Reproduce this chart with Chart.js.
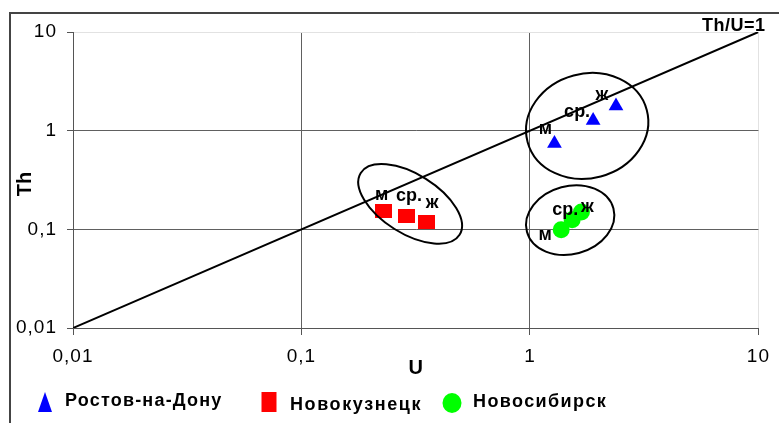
<!DOCTYPE html>
<html>
<head>
<meta charset="utf-8">
<script src="https://cdn.jsdelivr.net/npm/chart.js@4.4.1/dist/chart.umd.min.js"></script>
<style>
  html, body { margin: 0; padding: 0; background: #fff; }
  #wrap { position: relative; width: 779px; height: 423px; overflow: hidden; }
  #frame { position: absolute; left: 9px; top: 12px; width: 820px; height: 460px;
           border-left: 2px solid #444; border-top: 2px solid #444; }
  #c { position: absolute; left: 0; top: 0; }
</style>
</head>
<body>
<div id="wrap">
  <div id="frame"></div>
  <canvas id="c" width="779" height="423"></canvas>
</div>
<script>
// Th vs U, three sampling sites; stages: м, ср., ж
const seriesNames = ['Ростов-на-Дону', 'Новокузнецк', 'Новосибирск'];
const pointNames = ['м', 'ср.', 'ж'];

const rostovU = [1.28, 1.89, 2.38];
const rostovTh = [0.74, 1.27, 1.78];
const novokuzU = [0.229, 0.287, 0.351];
const novokuzTh = [0.154, 0.135, 0.120];
const novosibU = [1.37, 1.53, 1.68];
const novosibTh = [0.099, 0.125, 0.150];

const axisTicks = [0.01, 0.1, 1, 10];
const refLineU = [0.01, 10];
const refLineTh = [0.01, 10];
const refLineLabel = 'Th/U=1';

// group outlines: [centre U, centre Th, half-width (U decades), half-height (Th decades), tilt in degrees]
const rostovOutline = [1.78, 1.116, 0.27, 0.53, -15];
const novokuzOutline = [0.299, 0.181, 0.255, 0.30, 32];
const novosibOutline = [1.50, 0.124, 0.196, 0.345, -15];

const FONT = "'Liberation Sans', Arial, sans-serif";

// label offsets (px) of the stage names around each marker
const labelOffsets = [
  [[-9, -15], [-16, -8], [-14, -11]],
  [[-2, -16], [3, -20], [6, -18]],
  [[-16, 5], [-7, -10], [6, -5]]
];

const pts = (u, th) => u.map((v, i) => ({ x: v, y: th[i] }));

// slightly wide red block used as the marker for the second series
function makeBlock(w, h, color) {
  const cv = document.createElement('canvas');
  cv.width = w; cv.height = h;
  const g = cv.getContext('2d');
  g.fillStyle = color;
  g.fillRect(0, 0, w, h);
  return cv;
}
const redBlock = makeBlock(17, 14, '#ff0000');

const overlay = {
  id: 'overlay',
  beforeDraw(chart) {
    // slightly spaced digits on the axis labels
    chart.ctx.letterSpacing = '1px';
  },
  beforeDatasetsDraw(chart) {
    chart.ctx.letterSpacing = '0px';
  },
  afterDatasetsDraw(chart) {
    const { ctx, scales: { x, y } } = chart;
    const decX = x.getPixelForValue(10) - x.getPixelForValue(1);
    const decY = y.getPixelForValue(1) - y.getPixelForValue(10);

    // group outlines
    ctx.save();
    ctx.strokeStyle = '#000';
    ctx.lineWidth = 2;
    [rostovOutline, novokuzOutline, novosibOutline].forEach(o => {
      ctx.beginPath();
      ctx.ellipse(x.getPixelForValue(o[0]), y.getPixelForValue(o[1]),
                  o[2] * decX, o[3] * decY, o[4] * Math.PI / 180, 0, Math.PI * 2);
      ctx.stroke();
    });
    ctx.restore();

    // stage names next to markers
    ctx.save();
    ctx.fillStyle = '#000';
    ctx.font = 'bold 18px ' + FONT;
    ctx.textAlign = 'center';
    ctx.textBaseline = 'middle';
    [1, 2, 3].forEach((di, s) => {
      const meta = chart.getDatasetMeta(di);
      meta.data.forEach((el, i) => {
        const off = labelOffsets[s][i];
        ctx.fillText(pointNames[i], el.x + off[0], el.y + off[1]);
      });
    });
    ctx.restore();
  },
  afterDraw(chart) {
    const { ctx, chartArea } = chart;
    ctx.save();
    ctx.fillStyle = '#000';

    // reference line caption
    ctx.font = 'bold 18px ' + FONT;
    ctx.textAlign = 'right';
    ctx.textBaseline = 'alphabetic';
    ctx.letterSpacing = '0.5px';
    ctx.fillText(refLineLabel, chartArea.right + 7, chartArea.top - 1);
    ctx.letterSpacing = '0px';

    // axis titles
    ctx.font = 'bold 20px ' + FONT;
    ctx.textAlign = 'center';
    ctx.textBaseline = 'middle';
    ctx.fillText('U', (chartArea.left + chartArea.right) / 2, chartArea.bottom + 40);
    ctx.save();
    ctx.translate(25, (chartArea.top + chartArea.bottom) / 2 + 4);
    ctx.rotate(-Math.PI / 2);
    ctx.fillText('Th', 0, 0);
    ctx.restore();

    // legend
    const items = [
      { sx: 45, tx: 65, ty: 401, ls: 1.2 },
      { sx: 269, tx: 290, ty: 405, ls: 1.6 },
      { sx: 452, tx: 473, ty: 402, ls: 1.4 }
    ];
    const colors = ['#0000ff', '#ff0000', '#00ff00'];
    items.forEach((it, i) => {
      ctx.fillStyle = colors[i];
      ctx.beginPath();
      if (i === 0) {
        ctx.moveTo(it.sx, 392); ctx.lineTo(it.sx + 7, 412); ctx.lineTo(it.sx - 7, 412);
        ctx.closePath();
      } else if (i === 1) {
        ctx.rect(it.sx - 7.5, 392, 15, 20);
      } else {
        ctx.ellipse(it.sx, 403, 9.5, 10, 0, 0, Math.PI * 2);
      }
      ctx.fill();
      ctx.fillStyle = '#000';
      ctx.font = 'bold 18px ' + FONT;
      ctx.textAlign = 'left';
      ctx.textBaseline = 'middle';
      ctx.letterSpacing = it.ls + 'px';
      ctx.fillText(seriesNames[i], it.tx, it.ty);
      ctx.letterSpacing = '0px';
    });
    ctx.restore();
  }
};

const tickFmt = v => String(v).replace('.', ',');

new Chart(document.getElementById('c'), {
  type: 'scatter',
  data: {
    datasets: [
      {
        label: refLineLabel,
        data: pts(refLineU, refLineTh),
        showLine: true,
        borderColor: '#000',
        borderWidth: 2,
        pointRadius: 0,
        order: 4
      },
      {
        label: seriesNames[0],
        data: pts(rostovU, rostovTh),
        pointStyle: 'triangle',
        pointRadius: 8.5,
        backgroundColor: '#0000ff',
        borderColor: '#0000ff',
        borderWidth: 0,
        order: 1
      },
      {
        label: seriesNames[1],
        data: pts(novokuzU, novokuzTh),
        pointStyle: redBlock,
        backgroundColor: '#ff0000',
        borderColor: '#ff0000',
        order: 2
      },
      {
        label: seriesNames[2],
        data: pts(novosibU, novosibTh),
        pointStyle: 'circle',
        pointRadius: 8.5,
        backgroundColor: '#00ff00',
        borderColor: '#00ff00',
        borderWidth: 0,
        order: 3
      }
    ]
  },
  options: {
    responsive: false,
    animation: false,
    events: [],
    layout: { padding: { top: 32, right: 17, left: 0, bottom: 0 } },
    plugins: { legend: { display: false }, tooltip: { enabled: false } },
    scales: {
      x: {
        type: 'logarithmic',
        min: 0.01, max: 10,
        afterBuildTicks: s => { s.ticks = axisTicks.map(v => ({ value: v })); },
        afterFit: s => { s.height = 95; },
        ticks: {
          callback: v => tickFmt(v),
          font: { family: FONT, size: 19 },
          color: '#000',
          padding: 10,
          maxRotation: 0,
          autoSkip: false
        },
        grid: {
          color: c => (c.tick && c.tick.value === 10) ? '#e2e2e2' : '#606060',
          tickColor: '#555',
          tickLength: 7,
          lineWidth: 1
        },
        border: { color: '#555', width: 1 }
      },
      y: {
        type: 'logarithmic',
        min: 0.01, max: 10,
        afterBuildTicks: s => { s.ticks = axisTicks.map(v => ({ value: v })); },
        afterFit: s => { s.width = 73; },
        ticks: {
          callback: v => tickFmt(v),
          font: { family: FONT, size: 19 },
          color: '#000',
          padding: 10,
          autoSkip: false
        },
        grid: {
          color: c => (c.tick && c.tick.value === 10) ? '#e2e2e2' : '#606060',
          tickColor: '#555',
          tickLength: 6,
          lineWidth: 1
        },
        border: { color: '#555', width: 1 }
      }
    }
  },
  plugins: [overlay]
});
</script>
</body>
</html>
